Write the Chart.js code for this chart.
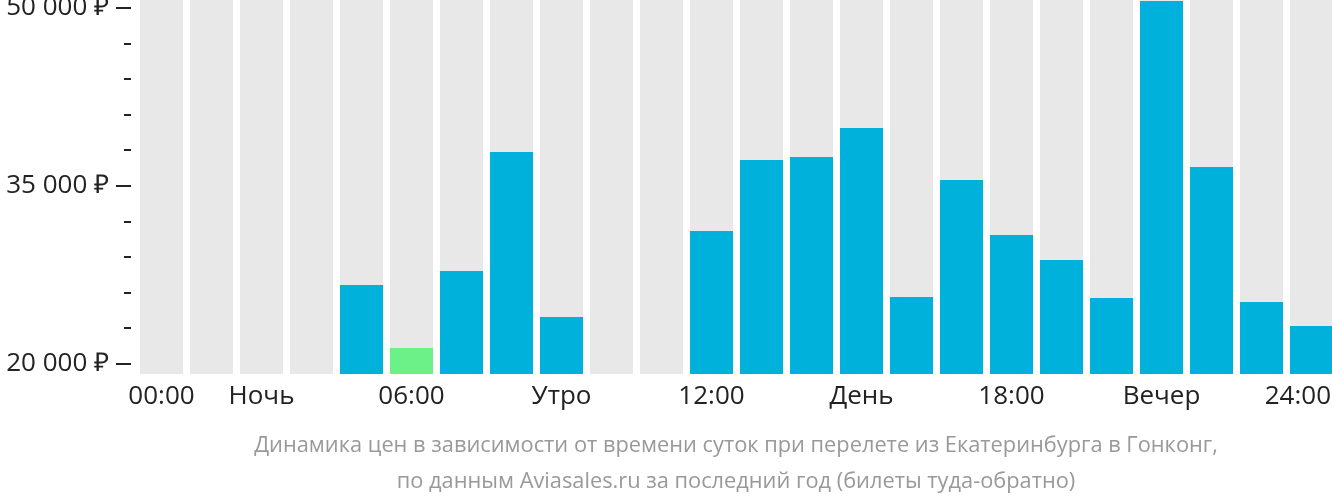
<!DOCTYPE html>
<html>
<head>
<meta charset="utf-8">
<script src="https://cdn.jsdelivr.net/npm/chart.js@4"></script>
<style>
  html, body { margin: 0; padding: 0; background: #fff; overflow: hidden; }
  #wrap { width: 1340px; height: 502px; position: relative; }
</style>
</head>
<body>
<div id="wrap"><canvas id="priceChart"></canvas></div>
<script>
// hours of the day, 0..23
const hours = ['0','1','2','3','4','5','6','7','8','9','10','11','12','13','14','15','16','17','18','19','20','21','22','23'];
// cheapest price per departure hour, null = no data
const prices = [null, null, null, null, 26660, 21350, 27840, 37870, 23960, null, null, 31210,
                37190, 37440, 39890, 25650, 35510, 30870, 28760, 25560, 50590, 36600, 25230, 23200];
// index of the cheapest hour (drawn green)
const cheapestHour = 5;
// labels under the bars
const xTickLabels = ['00:00', '', 'Ночь', '', '', '06:00', '', '', 'Утро', '', '', '12:00',
                     '', '', 'День', '', '', '18:00', '', '', 'Вечер', '', '', '24:00'];
const yTicks = [20000, 23000, 26000, 29000, 32000, 35000, 38000, 41000, 44000, 47000, 50000];
const yLabelTicks = [20000, 35000, 50000];
const yMin = 19160;
const yMax = 50670;
const caption = [
  'Динамика цен в зависимости от времени суток при перелете из Екатеринбурга в Гонконг,',
  'по данным Aviasales.ru за последний год (билеты туда-обратно)'
];

const fmtRub = v => String(v).replace(/\B(?=(\d{3})+(?!\d))/g, ' ') + ' ₽';

// draws ticks, labels and caption with the chart's own scales
const axisPlugin = {
  id: 'axisPlugin',
  afterDraw(chart) {
    const ctx = chart.ctx;
    const y = chart.scales.y;
    const x = chart.scales.x;
    ctx.save();

    // y ticks
    ctx.strokeStyle = '#222';
    ctx.lineWidth = 2;
    ctx.fillStyle = '#222';
    ctx.font = '26px "Open Sans"';
    ctx.textAlign = 'right';
    ctx.textBaseline = 'middle';
    yTicks.forEach(v => {
      const py = Math.round(y.getPixelForValue(v));
      const major = yLabelTicks.includes(v);
      ctx.beginPath();
      ctx.moveTo(major ? 116 : 124, py);
      ctx.lineTo(131, py);
      ctx.stroke();
      if (major) ctx.fillText(fmtRub(v), 109, py);
    });

    // x labels
    ctx.textAlign = 'center';
    xTickLabels.forEach((lbl, i) => {
      if (!lbl) return;
      let px = x.getPixelForValue(i);
      const w = ctx.measureText(lbl).width;
      if (px + w / 2 > 1331) px = 1331 - w / 2;
      ctx.fillText(lbl, px, 397);
    });

    // caption
    ctx.fillStyle = '#999';
    ctx.font = '21.8px "Open Sans"';
    ctx.fillText(caption[0], 736, 446);
    ctx.fillText(caption[1], 736, 482);
    ctx.restore();
  }
};

const ctx = document.getElementById('priceChart').getContext('2d');

new Chart(ctx, {
  type: 'bar',
  data: {
    labels: hours,
    datasets: [
      {
        data: prices,
        backgroundColor: prices.map((p, i) => i === cheapestHour ? '#6cf088' : '#00b1dc'),
        grouped: false,
        order: 0
      },
      {
        // grey track behind every hour
        data: hours.map(() => yMax),
        backgroundColor: '#e8e8e8',
        grouped: false,
        order: 1
      }
    ]
  },
  options: {
    responsive: true,
    maintainAspectRatio: false,
    animation: false,
    layout: { padding: { left: 136.5, right: 3.5, top: 0, bottom: 128 } },
    datasets: { bar: { barPercentage: 0.86, categoryPercentage: 1 } },
    scales: {
      x: { display: false },
      y: { display: false, min: yMin, max: yMax }
    },
    plugins: {
      legend: { display: false },
      tooltip: { enabled: false }
    }
  },
  plugins: [axisPlugin]
});
</script>
</body>
</html>
